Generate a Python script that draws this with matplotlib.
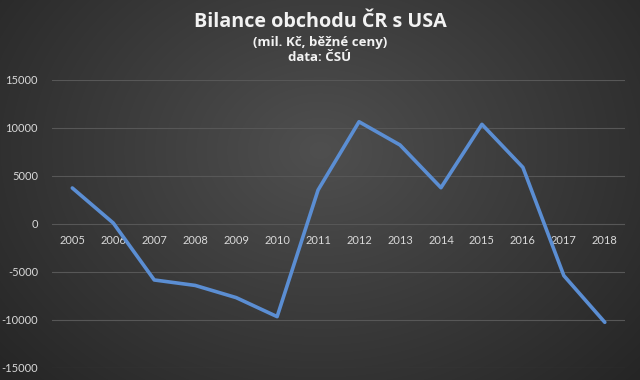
import numpy as np
import matplotlib
matplotlib.use("Agg")
import matplotlib.pyplot as plt

years = ["2005", "2006", "2007", "2008", "2009", "2010", "2011",
         "2012", "2013", "2014", "2015", "2016", "2017", "2018"]
balance = [3750, 100, -5830, -6400, -7670, -9650, 3540,
           10650, 8230, 3780, 10380, 5900, -5380, -10240]
yticks = [-15000, -10000, -5000, 0, 5000, 10000, 15000]

plt.rcParams['font.family'] = ['Lato', 'DejaVu Sans']

fig = plt.figure(figsize=(6.4, 3.8), dpi=100)

# radial gradient background
bg = fig.add_axes([0, 0, 1, 1], zorder=0)
yy, xx = np.mgrid[0:380, 0:640]
r = np.sqrt(((xx - 320) / 420.0) ** 2 + ((yy - 150) / 330.0) ** 2)
val = np.clip(0.31 - 0.16 * r, 0.13, 0.31)
img = np.dstack([val, val, val])
bg.imshow(img, aspect='auto', extent=[0, 1, 0, 1])
bg.axis('off')

ax = fig.add_axes([0.081, 0.0316, 0.896, 0.7579], zorder=1)
ax.patch.set_alpha(0)
x = np.arange(len(years))
ax.plot(x, balance, color='#5b8ed3', lw=2.6, solid_joinstyle='round',
        solid_capstyle='round', zorder=3)

ax.set_xlim(-0.5, len(years) - 0.5)
ax.set_ylim(-15000, 15000)
ax.set_yticks(yticks)
ax.set_yticklabels([str(v) for v in yticks])
ax.grid(axis='y', color='#575757', lw=0.8)
ax.set_axisbelow(True)
for s in ax.spines.values():
    s.set_visible(False)
ax.spines['bottom'].set_position(('data', 0))
ax.set_xticks(x)
ax.set_xticklabels(years)
ax.tick_params(axis='both', length=0, colors='#d9d9d9', labelsize=8)
ax.tick_params(axis='x', pad=8)
ax.tick_params(axis='y', pad=10)

tfont = ['Open Sans', 'DejaVu Sans']
fig.text(0.5, 0.942, "Bilance obchodu ČR s USA", ha='center', va='center',
         color='#f2f2f2', fontsize=14.2, fontweight='bold', family=tfont)
fig.text(0.5, 0.888, "(mil. Kč, běžné ceny)", ha='center', va='center',
         color='#f2f2f2', fontsize=9.5, fontweight='bold', family=tfont)
fig.text(0.5, 0.848, "data: ČSÚ", ha='center', va='center',
         color='#f2f2f2', fontsize=9.5, fontweight='bold', family=tfont)

fig.savefig("out.png", dpi=100)
